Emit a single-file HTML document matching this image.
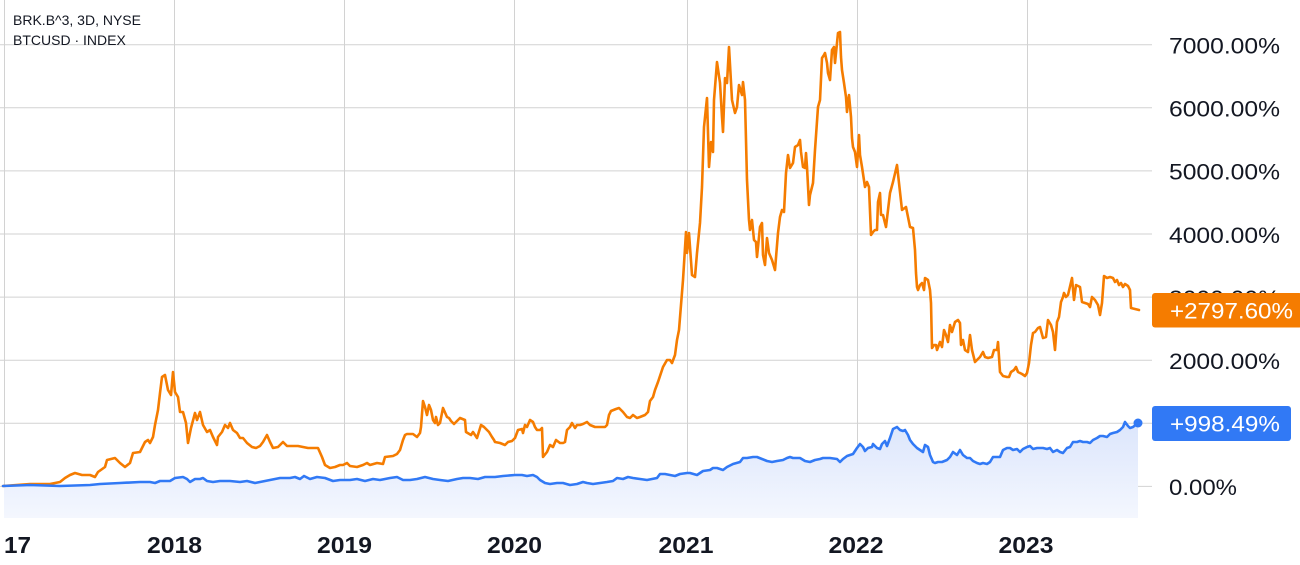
<!DOCTYPE html>
<html>
<head>
<meta charset="utf-8">
<style>
html,body{margin:0;padding:0;background:#ffffff;}
body{width:1300px;height:565px;overflow:hidden;}
svg{display:block;}
text{font-family:"Liberation Sans",sans-serif;}
</style>
</head>
<body>
<svg width="1300" height="565" viewBox="0 0 1300 565" xmlns="http://www.w3.org/2000/svg">
<defs>
<linearGradient id="fillg" gradientUnits="userSpaceOnUse" x1="0" y1="420" x2="0" y2="518">
<stop offset="0" stop-color="#dbe5fc"/>
<stop offset="1" stop-color="#f4f7fe"/>
</linearGradient>
</defs>
<rect x="0" y="0" width="1300" height="565" fill="#ffffff"/>
<g stroke="#d2d2d2" stroke-width="1">
<line x1="4.5" y1="0" x2="4.5" y2="518"/>
<line x1="174.5" y1="0" x2="174.5" y2="518"/>
<line x1="344.5" y1="0" x2="344.5" y2="518"/>
<line x1="514.5" y1="0" x2="514.5" y2="518"/>
<line x1="687.5" y1="0" x2="687.5" y2="518"/>
<line x1="857.5" y1="0" x2="857.5" y2="518"/>
<line x1="1027.5" y1="0" x2="1027.5" y2="518"/>
</g>
<g stroke="#d2d2d2" stroke-width="1">
<line x1="0" y1="44.7" x2="1152" y2="44.7"/>
<line x1="0" y1="107.8" x2="1152" y2="107.8"/>
<line x1="0" y1="170.9" x2="1152" y2="170.9"/>
<line x1="0" y1="234" x2="1152" y2="234"/>
<line x1="0" y1="297.1" x2="1152" y2="297.1"/>
<line x1="0" y1="360.2" x2="1152" y2="360.2"/>
<line x1="0" y1="423.3" x2="1152" y2="423.3"/>
<line x1="0" y1="486.4" x2="1152" y2="486.4"/>
</g>
<polygon fill="url(#fillg)" points="4,518 4,486 30,485 60,486 90,485 100,484 120,483 140,482 150,482 155,483 160,481 170,481 175,478 183,477 187,479 190,482 195,479 200,479 203,478 207,481 213,482 220,481 230,481 240,482 247,481 255,483 260,482 270,480 280,478 290,478 295,477 300,479 304,476 310,479 317,477 325,478 333,481 340,480 350,480 357,479 365,481 373,479 380,480 390,478 397,477 403,480 410,480 417,479 425,477 433,479 440,480 448,481 457,479 463,478 470,478 478,479 485,477 490,477 495,477 503,476 515,475 522,475 527,476 533,475 537,477 540,480 545,483 550,484 557,483 563,483 570,485 577,484 583,482 587,483 593,484 600,483 607,482 613,481 617,478 623,479 628,477 633,478 640,479 647,480 652,479 657,478 660,474 665,474 670,475 675,476 680,474 687,473 690,473 697,475 703,471 710,470 713,468 717,468 720,469 723,470 727,467 733,464 740,462 743,458 747,458 753,457 757,457 762,459 767,461 772,462 777,461 783,460 787,458 790,457 793,458 800,458 805,461 810,462 815,460 820,459 823,458 830,458 837,459 840,462 843,459 847,456 853,454 857,448 860,444 863,447 865,451 868,448 872,447 873,444 877,448 880,449 882,444 885,441 887,446 890,438 893,429 897,427 900,430 903,431 905,430 908,435 910,440 913,444 917,448 920,450 923,452 925,445 928,447 930,455 933,462 935,463 938,462 942,462 947,460 950,457 953,452 957,455 960,450 963,455 967,458 970,458 973,461 977,463 980,464 983,463 987,464 990,462 993,457 997,457 1000,457 1003,450 1007,448 1010,448 1013,450 1017,449 1020,452 1023,449 1027,447 1030,446 1033,449 1037,448 1043,448 1047,449 1050,448 1053,452 1057,450 1060,452 1063,453 1067,448 1070,447 1073,442 1077,442 1080,441 1083,442 1087,442 1090,443 1093,440 1097,438 1100,436 1103,436 1107,437 1110,434 1113,433 1117,432 1120,430 1123,427 1125,422 1128,426 1130,428 1133,427 1138,422 1138,518"/>
<polyline fill="none" stroke="#f57c00" stroke-width="2.6" stroke-linejoin="round" stroke-linecap="round" points="3,486 30,484 50,484 60,482 65,478 70,475 75,473 82,475 90,475 95,477 98,472 105,467 107,460 115,458 120,463 125,467 130,463 133,453 140,452 145,442 148,440 150,443 153,437 155,425 158,410 160,393 162,377 165,375 168,390 171,395 173,372 175,392 178,397 180,412 183,412 186,423 188,443 191,428 195,413 197,420 200,412 203,425 207,432 210,430 213,437 217,445 218,437 222,432 225,425 228,428 230,423 233,430 237,433 240,438 243,438 247,443 252,447 256,448 260,446 263,442 267,435 270,442 273,448 278,447 283,442 287,446 293,446 298,446 303,447 308,448 315,448 318,448 322,457 325,465 330,468 335,467 340,465 343,465 347,463 350,466 357,467 363,465 367,463 370,465 377,463 383,464 385,457 393,456 397,454 400,450 403,440 405,435 407,434 413,434 417,437 420,433 421,427 423,401 425,407 427,415 429,405 431,410 433,420 435,423 436,417 438,425 440,423 443,408 447,417 449,418 451,421 454,424 457,421 460,418 465,420 466,432 471,435 473,432 477,438 481,425 484,427 489,432 492,437 494,440 495,442 500,443 505,445 508,442 512,441 515,438 518,430 522,429 523,433 525,425 527,427 530,420 533,422 535,427 537,430 540,430 542,428 543,457 547,452 550,445 553,447 556,440 560,443 563,443 565,442 567,430 570,427 572,423 575,428 577,425 580,425 583,424 587,422 590,425 595,427 600,427 605,427 607,425 609,415 611,411 616,409 619,408 623,412 627,417 630,418 633,415 637,418 640,417 645,415 648,412 650,401 653,397 655,390 658,382 661,373 663,367 667,360 670,360 672,363 675,355 677,340 679,330 681,305 683,280 686,232 687,253 689,233 692,275 695,277 697,253 700,223 702,187 704,127 707,98 709,167 711,142 713,152 714,100 717,62 720,83 722,117 723,132 725,78 727,83 729,47 732,100 735,113 737,107 739,85 742,95 743,82 745,100 747,180 749,220 750,230 752,220 754,240 756,242 757,257 760,227 762,223 763,255 765,265 767,238 769,253 772,260 775,270 778,233 780,217 782,210 784,212 786,173 788,155 790,168 793,163 795,147 798,145 800,140 801,152 803,167 805,168 806,153 807,167 809,205 810,195 812,187 813,183 815,150 818,107 820,100 822,58 824,55 825,53 827,63 828,73 830,80 832,50 834,47 835,63 837,43 838,33 840,32 841,57 842,70 844,83 846,97 847,112 848,103 849,95 851,117 852,138 853,147 855,152 857,167 859,135 860,155 862,167 865,187 867,182 869,187 871,235 873,232 875,230 877,230 878,202 880,193 881,215 883,215 886,227 890,193 893,182 897,165 899,183 902,210 906,207 908,217 910,227 913,228 915,250 916,273 917,287 918,290 920,285 922,283 924,290 925,278 928,280 930,290 931,303 932,348 934,345 936,345 937,350 940,342 942,347 944,330 946,335 948,342 950,325 952,332 955,322 958,320 960,323 961,345 963,340 965,350 968,352 970,335 972,350 975,362 980,357 983,352 985,357 988,358 992,357 994,350 997,350 998,342 1000,372 1003,376 1007,377 1009,377 1011,372 1014,370 1016,367 1018,372 1022,374 1025,376 1027,373 1029,363 1031,345 1033,333 1035,332 1038,328 1040,327 1043,338 1046,337 1048,320 1051,325 1053,332 1055,350 1057,322 1059,317 1061,302 1063,297 1064,293 1066,297 1068,295 1072,278 1074,300 1076,285 1080,287 1082,302 1085,303 1088,304 1090,307 1092,297 1095,300 1098,305 1100,315 1102,303 1104,276 1107,278 1110,277 1113,278 1115,282 1117,280 1119,285 1121,283 1123,287 1125,284 1128,286 1130,290 1131,308 1135,309 1139,310"/>
<polyline fill="none" stroke="#3179f5" stroke-width="2.6" stroke-linejoin="round" stroke-linecap="round" points="3,486 30,485 60,486 90,485 100,484 120,483 140,482 150,482 155,483 160,481 170,481 175,478 183,477 187,479 190,482 195,479 200,479 203,478 207,481 213,482 220,481 230,481 240,482 247,481 255,483 260,482 270,480 280,478 290,478 295,477 300,479 304,476 310,479 317,477 325,478 333,481 340,480 350,480 357,479 365,481 373,479 380,480 390,478 397,477 403,480 410,480 417,479 425,477 433,479 440,480 448,481 457,479 463,478 470,478 478,479 485,477 490,477 495,477 503,476 515,475 522,475 527,476 533,475 537,477 540,480 545,483 550,484 557,483 563,483 570,485 577,484 583,482 587,483 593,484 600,483 607,482 613,481 617,478 623,479 628,477 633,478 640,479 647,480 652,479 657,478 660,474 665,474 670,475 675,476 680,474 687,473 690,473 697,475 703,471 710,470 713,468 717,468 720,469 723,470 727,467 733,464 740,462 743,458 747,458 753,457 757,457 762,459 767,461 772,462 777,461 783,460 787,458 790,457 793,458 800,458 805,461 810,462 815,460 820,459 823,458 830,458 837,459 840,462 843,459 847,456 853,454 857,448 860,444 863,447 865,451 868,448 872,447 873,444 877,448 880,449 882,444 885,441 887,446 890,438 893,429 897,427 900,430 903,431 905,430 908,435 910,440 913,444 917,448 920,450 923,452 925,445 928,447 930,455 933,462 935,463 938,462 942,462 947,460 950,457 953,452 957,455 960,450 963,455 967,458 970,458 973,461 977,463 980,464 983,463 987,464 990,462 993,457 997,457 1000,457 1003,450 1007,448 1010,448 1013,450 1017,449 1020,452 1023,449 1027,447 1030,446 1033,449 1037,448 1043,448 1047,449 1050,448 1053,452 1057,450 1060,452 1063,453 1067,448 1070,447 1073,442 1077,442 1080,441 1083,442 1087,442 1090,443 1093,440 1097,438 1100,436 1103,436 1107,437 1110,434 1113,433 1117,432 1120,430 1123,427 1125,422 1128,426 1130,428 1133,427 1138,423"/>
<circle cx="1138" cy="423" r="4.5" fill="#3179f5"/>
<text x="13" y="25" font-size="14" fill="#131722" textLength="128" lengthAdjust="spacingAndGlyphs">BRK.B^3, 3D, NYSE</text>
<text x="13" y="45" font-size="14" fill="#131722">BTCUSD · INDEX</text>
<g font-size="22.5" fill="#131722">
<text x="1169" y="53.5" textLength="111" lengthAdjust="spacingAndGlyphs">7000.00%</text>
<text x="1169" y="116.6" textLength="111" lengthAdjust="spacingAndGlyphs">6000.00%</text>
<text x="1169" y="179.7" textLength="111" lengthAdjust="spacingAndGlyphs">5000.00%</text>
<text x="1169" y="242.8" textLength="111" lengthAdjust="spacingAndGlyphs">4000.00%</text>
<text x="1169" y="305.9" textLength="111" lengthAdjust="spacingAndGlyphs">3000.00%</text>
<text x="1169" y="369" textLength="111" lengthAdjust="spacingAndGlyphs">2000.00%</text>
<text x="1169" y="432.1" textLength="111" lengthAdjust="spacingAndGlyphs">1000.00%</text>
<text x="1169" y="495.2" textLength="68" lengthAdjust="spacingAndGlyphs">0.00%</text>
</g>
<rect x="1152" y="293" width="150" height="34.5" rx="3" fill="#f57c00"/>
<text x="1170" y="318.5" font-size="22.5" fill="#ffffff" textLength="123" lengthAdjust="spacingAndGlyphs">+2797.60%</text>
<rect x="1152" y="406" width="139" height="35" rx="3" fill="#3179f5"/>
<text x="1170" y="431.5" font-size="22.5" fill="#ffffff" textLength="110" lengthAdjust="spacingAndGlyphs">+998.49%</text>
<text x="4" y="553" font-size="23" font-weight="bold" fill="#131722" textLength="27" lengthAdjust="spacingAndGlyphs">17</text>
<g font-size="23" font-weight="bold" fill="#131722" text-anchor="middle">
<text x="174.5" y="553" textLength="55" lengthAdjust="spacingAndGlyphs">2018</text>
<text x="344.5" y="553" textLength="55" lengthAdjust="spacingAndGlyphs">2019</text>
<text x="514.5" y="553" textLength="55" lengthAdjust="spacingAndGlyphs">2020</text>
<text x="686" y="553" textLength="55" lengthAdjust="spacingAndGlyphs">2021</text>
<text x="856" y="553" textLength="55" lengthAdjust="spacingAndGlyphs">2022</text>
<text x="1026" y="553" textLength="55" lengthAdjust="spacingAndGlyphs">2023</text>
</g>
</svg>
</body>
</html>
